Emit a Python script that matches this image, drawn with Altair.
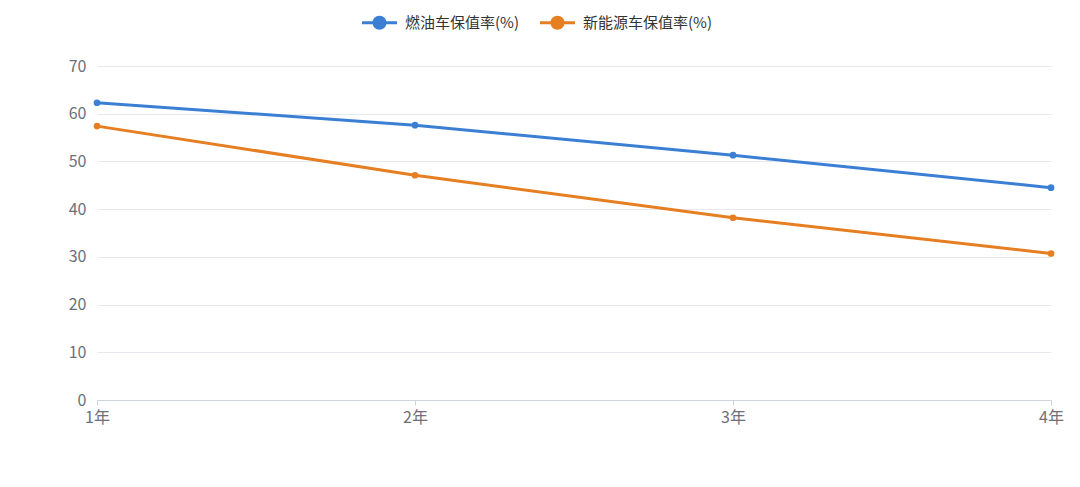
import altair as alt
import pandas as pd

years = ["1年", "2年", "3年", "4年"]
fuel = [62.3, 57.6, 51.3, 44.5]
ev = [57.4, 47.1, 38.2, 30.7]
series_names = ["燃油车保值率(%)", "新能源车保值率(%)"]
colors = ["#3a7fd4", "#e67e22"]

rows = []
for y, v in zip(years, fuel):
    rows.append({"year": y, "value": v, "series": series_names[0]})
for y, v in zip(years, ev):
    rows.append({"year": y, "value": v, "series": series_names[1]})
df = pd.DataFrame(rows)

FONT = "Noto Sans CJK SC"

x = alt.X("year:N", sort=years, scale=alt.Scale(type="point", padding=0),
          axis=alt.Axis(title=None, labelAngle=0, domainColor="#cfd3dc", tickColor="#cfd3dc",
                        tickSize=5, labelPadding=4, labelColor="#6e7079", labelFontSize=16,
                        labelFont=FONT, grid=False))
y = alt.Y("value:Q", scale=alt.Scale(domain=[0, 70], nice=False),
          axis=alt.Axis(title=None, values=list(range(0, 71, 10)), domain=False, ticks=False,
                        labelPadding=11, labelColor="#6e7079", labelFontSize=16, labelFont=FONT,
                        gridColor="#e6e9ef", gridWidth=1))
color_scale = alt.Scale(domain=series_names, range=colors)

legend_path = ("M-2.5,-0.22 L2.5,-0.22 L2.5,0.22 L-2.5,0.22 Z "
               "M-1,0 A1,1 0 1,1 1,0 A1,1 0 1,1 -1,0 Z")

legend = alt.Legend(title=None, orient="none", direction="horizontal",
                    legendX=275, legendY=-51, symbolType=legend_path,
                    symbolSize=196, symbolOpacity=1, symbolStrokeWidth=0,
                    symbolFillColor="#000",
                    labelFontSize=15, labelFont=FONT, labelColor="#333",
                    labelOffset=18, columnPadding=21, padding=0)

color = alt.Color("series:N", scale=color_scale, sort=series_names, legend=legend)

lines = alt.Chart(df).mark_line(strokeWidth=3).encode(x=x, y=y, color=color)
points = alt.Chart(df).mark_point(filled=True, size=45, opacity=1).encode(x=x, y=y, color=color)

chart = alt.layer(lines, points).properties(
    width=954, height=334,
    autosize=alt.AutoSizeParams(type="none"),
    padding={"left": 89, "top": 58, "right": 21, "bottom": 79},
    background="white",
).configure_view(stroke=None)

chart.save("out.html", embed_options={"renderer": "svg", "actions": False})
